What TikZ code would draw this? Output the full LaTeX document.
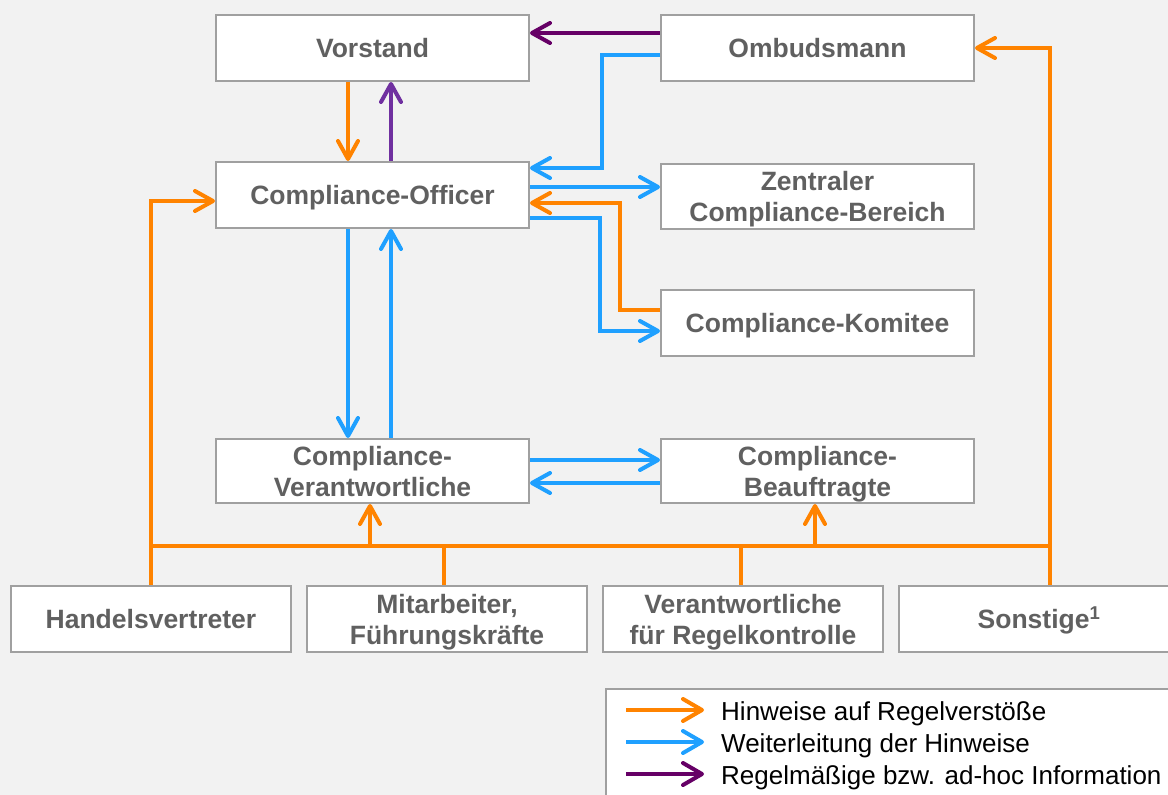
\documentclass[tikz,border=0pt]{standalone}
\usepackage{fontspec}
\setmainfont{Liberation Sans}
\usetikzlibrary{arrows.meta,calc}
\definecolor{bgc}{HTML}{F2F2F2}
\definecolor{boxc}{HTML}{A0A0A0}
\definecolor{txtc}{HTML}{606060}
\definecolor{orc}{HTML}{FF8300}
\definecolor{blc}{HTML}{1FA0FF}
\definecolor{pdc}{HTML}{660066}
\definecolor{plc}{HTML}{7030A0}
\tikzset{
  box/.style={draw=boxc, line width=2pt, fill=white, inner sep=0pt,
    minimum width=313pt, minimum height=66pt, align=center,
    text=txtc, font=\fontsize{26.5}{31}\selectfont\bfseries, text depth=0pt},
  oneline/.style={text height=19pt},
  lowbox/.style={box, minimum width=280pt},
  conn/.style={line width=4pt, line join=miter},
  tipd/.style={-{Straight Barb[length=18pt,width=20pt,round]}},
  tipl/.style={-{Straight Barb[length=19pt,width=22pt,round]}},
  oar/.style={conn, draw=orc},
  bar/.style={conn, draw=blc},
  par/.style={conn, draw=pdc},
  lar/.style={conn, draw=plc},
  legtext/.style={anchor=base west, inner sep=0pt, text=black,
    font=\fontsize{26}{32}\selectfont}
}
\begin{document}
\begin{tikzpicture}[x=1pt,y=-1pt]
\clip (0,0) rectangle (1168,795);
\fill[bgc] (0,0) rectangle (1168,795);

% nodes
\node[box,oneline] (vor) at (372.5,48) {Vorstand};
\node[box,oneline] (omb) at (817.5,48) {Ombudsmann};
\node[box,oneline] (co)  at (372.5,195) {Compliance-Officer};
\node[box, minimum height=65pt] (zcb) at (817.5,196.5) {Zentraler\\Compliance-Bereich};
\node[box,oneline] (kom) at (817.5,323) {Compliance-Komitee};
\node[box, minimum height=64pt] (cv) at (372.5,471) {Compliance-\\Verantwortliche};
\node[box, minimum height=64pt] (cb) at (817.5,471) {Compliance-\\Beauftragte};
\node[lowbox,oneline] (hv) at (151,619) {Handelsvertreter};
\node[lowbox] (ma) at (447,619) {Mitarbeiter,\\Führungskräfte};
\node[lowbox] (rk) at (743,619) {Verantwortliche\\für Regelkontrolle};
\node[lowbox,oneline] (so) at (1039,619) {Sonstige\textsuperscript{1}};

% connectors top
\draw[par,tipd] ([yshift=15pt]omb.west) -- ([yshift=15pt]vor.east);
\draw[bar,tipd] ([yshift=-7pt]omb.west) -- ++(-58,0) |- ([yshift=27pt]co.east);
\draw[oar,tipd] ([xshift=-24.5pt]vor.south) -- ([xshift=-24.5pt]co.north);
\draw[lar,tipd] ([xshift=18.5pt]co.north) -- ([xshift=18.5pt]vor.south);
\coordinate (coR1) at ([yshift=8pt]co.east);
\draw[bar,tipd] (coR1) -- (coR1 -| zcb.west);
\draw[oar,tipd] ([yshift=13pt]kom.west) -- ++(-40,0) |- ([yshift=-8pt]co.east);
\draw[bar,tipd] ([yshift=-23pt]co.east) -- ++(70,0) |- ([yshift=-8pt]kom.west);
\draw[bar,tipd] ([xshift=-24.5pt]co.south) -- ([xshift=-24.5pt]cv.north);
\draw[bar,tipd] ([xshift=18.5pt]cv.north) -- ([xshift=18.5pt]co.south);
\draw[bar,tipd] ([yshift=11pt]cv.east) -- ([yshift=11pt]cb.west);
\draw[bar,tipd] ([yshift=-12pt]cb.west) -- ([yshift=-12pt]cv.east);

% orange bus
\coordinate (busL) at ($(hv.north)+(0,-39)$);
\coordinate (soTop) at ([xshift=11pt]so.north);
\coordinate (maTop) at ([xshift=-3pt]ma.north);
\coordinate (rkTop) at ([xshift=-2pt]rk.north);
\coordinate (cvBot) at ([xshift=-2.5pt]cv.south);
\coordinate (cbBot) at ([xshift=-2.5pt]cb.south);
\draw[oar,tipd] (hv.north) |- ([yshift=-6pt]co.west);
\draw[oar,tipd] (soTop) |- (omb.east);
\draw[oar] (busL) -- (busL -| soTop);
\draw[oar] (maTop) -- (busL -| maTop);
\draw[oar] (rkTop) -- (busL -| rkTop);
\draw[oar,tipd] ([yshift=2pt]busL -| cvBot) -- (cvBot);
\draw[oar,tipd] ([yshift=2pt]busL -| cbBot) -- (cbBot);

% legend
\node[draw=boxc, line width=2pt, fill=white, minimum width=580pt, minimum height=120pt, anchor=north west, inner sep=0pt] (leg) at (605,688) {};
\coordinate (l1) at ([xshift=21pt,yshift=-22pt]leg.north west);
\coordinate (l2) at ([xshift=21pt,yshift=-54pt]leg.north west);
\coordinate (l3) at ([xshift=21pt,yshift=-86pt]leg.north west);
\draw[oar,tipl] (l1) -- ++(78,0);
\draw[bar,tipl] (l2) -- ++(78,0);
\draw[par,tipl] (l3) -- ++(78,0);
\node[legtext] (t1) at (721,720) {Hinweise auf Regelverstöße};
\node[legtext] (t2) at (721,752) {Weiterleitung der Hinweise};
\node[legtext] (t3) at (721,784) {Regelmäßige bzw. ad-hoc Information};
\end{tikzpicture}
\end{document}
